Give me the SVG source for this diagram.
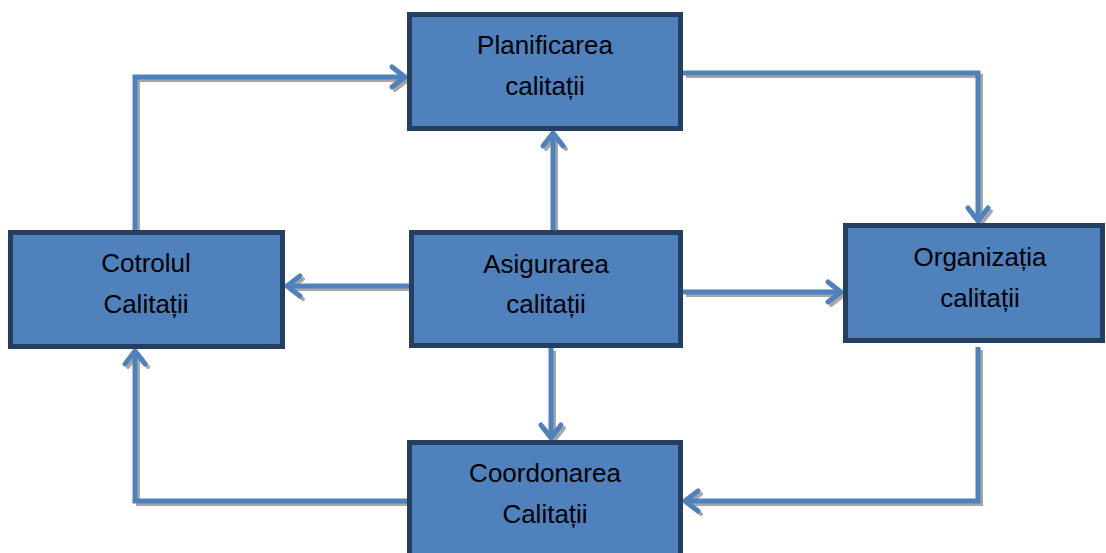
<svg xmlns="http://www.w3.org/2000/svg" width="1106" height="553" viewBox="0 0 1106 553">
<style>
.box{fill:#4F81BD;stroke:#243F60;stroke-width:5}
.lbl{font-family:"Liberation Sans",Arial,sans-serif;font-size:26px;fill:#000;text-anchor:middle}
.ln{fill:none;stroke:#4F81BD;stroke-width:5;stroke-linejoin:miter}
.sh{fill:none;stroke:#A6A6A6;stroke-width:4;stroke-linejoin:miter}
</style>
<defs>
<marker id="ah" markerUnits="userSpaceOnUse" viewBox="-18 -14 22 28" refX="0" refY="0" markerWidth="22" markerHeight="28" orient="auto" overflow="visible">
<path d="M-13,-10 L0,0 L-13,10" fill="none" stroke="#4F81BD" stroke-width="5" stroke-linecap="round" stroke-linejoin="round"/>
</marker>
<marker id="ahs" markerUnits="userSpaceOnUse" viewBox="-18 -14 22 28" refX="0" refY="0" markerWidth="22" markerHeight="28" orient="auto" overflow="visible">
<path d="M-13,-10 L0,0 L-13,10" fill="none" stroke="#A6A6A6" stroke-width="4" stroke-linecap="round" stroke-linejoin="round"/>
</marker>
<path id="c1" d="M553,230 L553,133"/>
<path id="c2" d="M135,230 L135,77 L405,77"/>
<path id="c3" d="M683,73 L978,73 L978,221"/>
<path id="c4" d="M683,292 L841,292"/>
<path id="c5" d="M409,286 L287,286"/>
<path id="c6" d="M551,348 L551,438"/>
<path id="c7" d="M978,347 L978,501 L685,501"/>
<path id="c8" d="M407,501 L135,501 L135,351"/>
</defs>
<g id="connectors">
<g transform="translate(3,3)" class="sh" marker-end="url(#ahs)">
<use href="#c1"/>
<use href="#c2"/>
<use href="#c3"/>
<use href="#c4"/>
<use href="#c5"/>
<use href="#c6"/>
<use href="#c7"/>
<use href="#c8"/>
</g>
<g class="ln" marker-end="url(#ah)">
<use href="#c1"/>
<use href="#c2"/>
<use href="#c3"/>
<use href="#c4"/>
<use href="#c5"/>
<use href="#c6"/>
<use href="#c7"/>
<use href="#c8"/>
</g>
</g>
<g id="planificarea">
<rect class="box" x="409.5" y="14.5" width="271" height="114"/>
<text class="lbl" x="545" y="54">Planificarea</text>
<text class="lbl" x="545" y="95">calitații</text>
</g>
<g id="cotrolul">
<rect class="box" x="10.5" y="232.5" width="272" height="114"/>
<text class="lbl" x="146" y="272">Cotrolul</text>
<text class="lbl" x="146" y="313">Calitații</text>
</g>
<g id="asigurarea">
<rect class="box" x="411.5" y="232.5" width="269" height="113"/>
<text class="lbl" x="546" y="273">Asigurarea</text>
<text class="lbl" x="546" y="313">calitații</text>
</g>
<g id="organizatia">
<rect class="box" x="845.5" y="225.5" width="257" height="115"/>
<text class="lbl" x="980" y="266">Organizația</text>
<text class="lbl" x="980" y="307">calitații</text>
</g>
<g id="coordonarea">
<rect class="box" x="409.5" y="442.5" width="271" height="120"/>
<text class="lbl" x="545" y="482">Coordonarea</text>
<text class="lbl" x="545" y="523">Calitații</text>
</g>
</svg>
